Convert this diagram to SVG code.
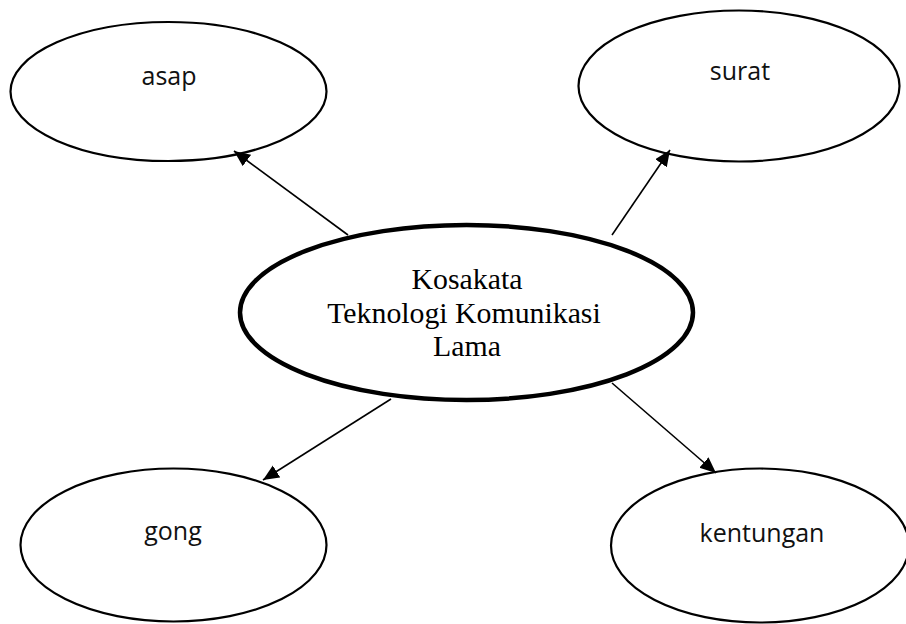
<svg xmlns="http://www.w3.org/2000/svg" width="906" height="624" viewBox="0 0 906 624">
<style>
.n{fill:#fff;stroke:#000;stroke-width:2.2}
.c{fill:#fff;stroke:#000;stroke-width:4.5}
.t{font-family:"Open Sans","Liberation Sans",sans-serif;font-size:25px;fill:#111;text-anchor:middle}
.m{font-family:"Liberation Serif","Times New Roman",serif;font-size:29.8px;fill:#000;text-anchor:middle}
.e{stroke:#000;stroke-width:1.6;fill:none;marker-end:url(#ah)}
</style>
<defs>
<marker id="ah" markerUnits="userSpaceOnUse" markerWidth="17" markerHeight="15" refX="16" refY="7" orient="auto">
<path d="M0,0 L16,7 L0,14 z" fill="#000"/>
</marker>
</defs>
<rect width="906" height="624" fill="#fff"/>
<g id="asap"><ellipse class="n" cx="168.5" cy="91.5" rx="158" ry="69.5"/><text class="t" x="169" y="85">asap</text></g>
<g id="surat"><ellipse class="n" cx="739" cy="86" rx="160.5" ry="75.5"/><text class="t" x="740" y="80">surat</text></g>
<g id="gong"><ellipse class="n" cx="173.5" cy="545" rx="153" ry="76.5"/><text class="t" x="173" y="540">gong</text></g>
<g id="kentungan"><ellipse class="n" cx="760" cy="545.5" rx="149" ry="77"/><text class="t" x="762" y="542">kentungan</text></g>
<g id="connectors">
<line class="e" x1="348" y1="235" x2="234" y2="151"/>
<line class="e" x1="612" y1="235" x2="670" y2="150"/>
<line class="e" x1="391" y1="399" x2="263" y2="480"/>
<line class="e" x1="612" y1="383" x2="716" y2="473"/>
</g>
<g id="center"><ellipse class="c" cx="466.5" cy="312.5" rx="226.5" ry="87.5"/>
<text class="m" x="467" y="289">Kosakata</text>
<text class="m" x="464" y="322.5">Teknologi Komunikasi</text>
<text class="m" x="467" y="356">Lama</text>
</g>
</svg>
